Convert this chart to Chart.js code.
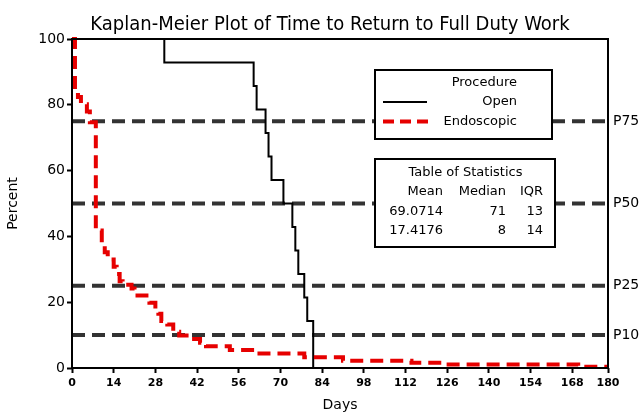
<!DOCTYPE html>
<html><head><meta charset="utf-8">
<script src="https://cdn.jsdelivr.net/npm/chart.js@4"></script>
<style>html,body{margin:0;padding:0;background:#fff}#wrap{width:644px;height:414px;position:relative}</style>
</head><body><div id="wrap"><canvas id="c"></canvas></div>
<script>
const chartTitle = 'Kaplan-Meier Plot of Time to Return to Full Duty Work';
const xTitle = 'Days';
const yTitle = 'Percent';
const seriesNames = ['Open', 'Endoscopic'];
const legendTitle = 'Procedure';
const openDays = [0, 31, 61, 62, 65, 66, 67, 71, 74, 75, 76, 78, 79, 81];
const openPct = [100, 92.86, 85.71, 78.57, 71.43, 64.29, 57.14, 50, 42.86, 35.71, 28.57, 21.43, 14.29, 0];
const endoDays = [0, 1, 2, 3, 5, 6, 8, 10, 11, 12, 14, 15, 16, 17, 20, 21, 22, 25, 26, 28, 29, 30, 32, 34, 36, 41, 43, 45, 53, 62, 78, 91, 114, 125, 170, 180];
const endoPct = [100, 84.6, 82.4, 80.2, 78.0, 74.7, 41.8, 37.4, 35.2, 33.0, 30.8, 28.6, 26.4, 25.3, 24.2, 23.1, 22.0, 20.9, 19.8, 17.6, 16.5, 14.3, 13.2, 11.0, 9.9, 8.8, 7.7, 6.6, 5.5, 4.4, 3.3, 2.2, 1.6, 1.1, 0.4, 0.4];
const pLevels = [75, 50, 25, 10];
const pLabels = ['P75', 'P50', 'P25', 'P10'];
const xTicks = [0, 14, 28, 42, 56, 70, 84, 98, 112, 126, 140, 154, 168, 180];
const yTicks = [0, 20, 40, 60, 80, 100];
const statTitle = 'Table of Statistics';
const statHeaders = ['Mean', 'Median', 'IQR'];
const statOpen = ['69.0714', '71', '13'];
const statEndo = ['17.4176', '8', '14'];

const RED = '#e60000';
const GREY = '#333333';
Chart.defaults.font.family = '"DejaVu Sans", Verdana, sans-serif';
Chart.defaults.color = '#000';

function pickTitleFont() {
  const c = document.createElement('canvas').getContext('2d');
  c.font = '20px "DejaVu Sans Condensed", monospace';
  const w1 = c.measureText(chartTitle).width;
  c.font = '20px monospace';
  const w2 = c.measureText(chartTitle).width;
  if (Math.abs(w1 - w2) > 1) return '20px "DejaVu Sans Condensed"';
  return '19.5px "Liberation Sans"';
}
const titleFont = pickTitleFont();

const datasets = [];
datasets.push({
  label: seriesNames[0],
  data: openDays.map((d, i) => ({x: d, y: openPct[i]})),
  borderColor: '#000', borderWidth: 2, stepped: true, pointRadius: 0, fill: false, order: 1
});
datasets.push({
  label: seriesNames[1],
  data: endoDays.map((d, i) => ({x: d, y: endoPct[i]})),
  borderColor: RED, borderWidth: 4, borderDash: [13, 7], stepped: true, pointRadius: 0, fill: false, order: 0
});
pLevels.forEach((v, i) => {
  datasets.push({
    label: pLabels[i],
    data: [{x: xTicks[0], y: v}, {x: xTicks[xTicks.length - 1], y: v}],
    borderColor: GREY, borderWidth: 4, borderDash: [13, 7], pointRadius: 0, fill: false, order: 5
  });
});

const deco = {
  id: 'deco',
  afterDatasetsDraw(chart) {
    const ctx = chart.ctx, a = chart.chartArea, ys = chart.scales.y;
    ctx.save();
    // frame
    ctx.strokeStyle = '#000'; ctx.lineWidth = 2; ctx.setLineDash([]);
    ctx.strokeRect(a.left, a.top, a.right - a.left, a.bottom - a.top);
    // title
    ctx.fillStyle = '#000';
    ctx.font = titleFont; ctx.textAlign = 'center'; ctx.textBaseline = 'alphabetic';
    ctx.fillText(chartTitle, 330, 30);
    // P labels
    ctx.font = '14px "DejaVu Sans"'; ctx.textAlign = 'left'; ctx.textBaseline = 'middle';
    pLevels.forEach((v, i) => ctx.fillText(pLabels[i], a.right + 5, ys.getPixelForValue(v)));
    // legend box
    ctx.fillStyle = '#fff'; ctx.fillRect(375, 70, 177, 69);
    ctx.strokeStyle = '#000'; ctx.lineWidth = 2; ctx.strokeRect(375, 70, 177, 69);
    ctx.fillStyle = '#000'; ctx.font = '13px "DejaVu Sans"'; ctx.textAlign = 'right'; ctx.textBaseline = 'middle';
    ctx.fillText(legendTitle, 517, 83);
    ctx.fillText(seriesNames[0], 517, 102);
    ctx.fillText(seriesNames[1], 517, 121.5);
    const d0 = chart.data.datasets[0], d1 = chart.data.datasets[1];
    ctx.beginPath(); ctx.moveTo(383, 102); ctx.lineTo(427, 102);
    ctx.strokeStyle = d0.borderColor; ctx.lineWidth = d0.borderWidth; ctx.setLineDash([]); ctx.stroke();
    ctx.beginPath(); ctx.moveTo(383, 121.5); ctx.lineTo(430, 121.5);
    ctx.strokeStyle = d1.borderColor; ctx.lineWidth = d1.borderWidth; ctx.setLineDash([11, 6]); ctx.stroke();
    ctx.setLineDash([]);
    // table box
    ctx.fillStyle = '#fff'; ctx.fillRect(375, 159, 180, 88);
    ctx.strokeStyle = '#000'; ctx.lineWidth = 2; ctx.strokeRect(375, 159, 180, 88);
    ctx.fillStyle = '#000'; ctx.textAlign = 'center';
    ctx.fillText(statTitle, 465.5, 172.5);
    ctx.textAlign = 'right';
    const cols = [443, 506, 543];
    statHeaders.forEach((t, i) => ctx.fillText(t, cols[i], 192));
    statOpen.forEach((t, i) => ctx.fillText(t, cols[i], 211.5));
    statEndo.forEach((t, i) => ctx.fillText(t, cols[i], 231));
    ctx.restore();
  }
};

new Chart(document.getElementById('c'), {
  type: 'line',
  data: {datasets},
  options: {
    responsive: true, maintainAspectRatio: false, animation: false,
    layout: {padding: {top: 39, right: 36, left: 0, bottom: 0}},
    plugins: {legend: {display: false}, tooltip: {enabled: false}, title: {display: false}},
    elements: {line: {tension: 0}},
    clip: false,
    scales: {
      x: {
        type: 'linear', min: 0, max: 180,
        afterBuildTicks: s => { s.ticks = xTicks.map(v => ({value: v})); },
        afterFit: s => { s.height = 46; },
        grid: {drawOnChartArea: false, drawTicks: true, tickLength: 5, tickColor: '#000', tickWidth: 2},
        border: {display: false},
        ticks: {autoSkip: false, maxRotation: 0, padding: 4, font: {size: 11, weight: 'bold'}, color: '#000'},
        title: {display: true, text: xTitle, font: {size: 14}, color: '#000', padding: {top: 0, bottom: 0}}
      },
      y: {
        type: 'linear', min: 0, max: 100,
        afterBuildTicks: s => { s.ticks = yTicks.map(v => ({value: v})); },
        afterFit: s => { s.width = 72; },
        grid: {drawOnChartArea: false, drawTicks: true, tickLength: 5, tickColor: '#000', tickWidth: 2},
        border: {display: false},
        ticks: {padding: 2, font: {size: 14}, color: '#000'},
        title: {display: true, text: yTitle, font: {size: 14}, color: '#000', padding: {top: 5, bottom: 0}}
      }
    }
  },
  plugins: [deco]
});
</script>
</body></html>
